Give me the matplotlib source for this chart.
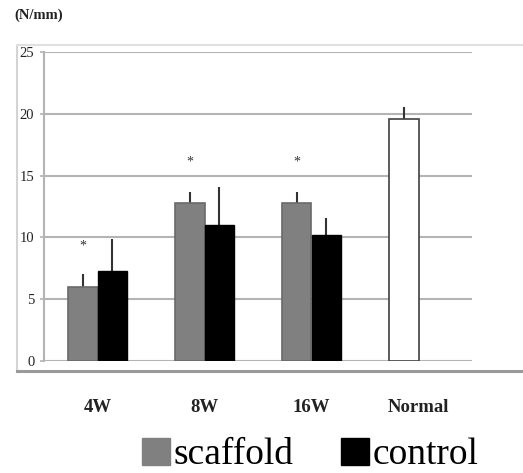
import numpy as np
import matplotlib
matplotlib.use("Agg")
from matplotlib import pyplot as plt
from matplotlib.patches import Patch
from matplotlib.lines import Line2D

# data
categories = ['4W', '8W', '16W', 'Normal']
scaffold = [6.0, 12.8, 12.8, 19.6]
scaffold_err = [1.0, 0.9, 0.9, 0.95]
control = [7.3, 11.0, 10.2]
control_err = [2.6, 3.05, 1.35]
star_height = [9.3, 16.1, 16.1]

plt.rcParams['font.family'] = ['Liberation Serif', 'DejaVu Serif']

fig = plt.figure(figsize=(5.23, 4.73), dpi=100)
ax = fig.add_axes([44/523, 112/473, 428/523, 309/473])

x = np.arange(len(categories))
w = 0.28
sc_colors = ['#808080'] * 3 + ['white']
sc_edges = ['#6a6a6a'] * 3 + ['#404040']
ax.bar(x - w/2, scaffold, w, color=sc_colors, edgecolor=sc_edges, linewidth=1.2, zorder=3)
ax.bar(x[:3] + w/2, control, w, color='black', edgecolor='black', linewidth=1.0, zorder=3)

ax.errorbar(x - w/2, scaffold, yerr=[np.zeros(4), scaffold_err], fmt='none',
            ecolor='#333333', elinewidth=1.5, capsize=0, zorder=2)
ax.errorbar(x[:3] + w/2, control, yerr=[np.zeros(3), control_err], fmt='none',
            ecolor='#333333', elinewidth=1.5, capsize=0, zorder=2)

# significance stars
for xi, h in zip(x[:3] - w/2, star_height):
    ax.text(xi, h, '*', ha='center', va='center', fontsize=10, color='#333333')

ax.set_xlim(-0.5, 3.5)
ax.set_ylim(0, 25)
ax.set_yticks([0, 5, 10, 15, 20, 25])
ax.yaxis.grid(True, color='#b4b4b4', linewidth=1.5, zorder=0)
ax.set_axisbelow(True)
for s in ['top', 'right', 'bottom']:
    ax.spines[s].set_visible(False)
ax.spines['left'].set_color('#b4b4b4')
ax.spines['left'].set_linewidth(1.5)
ax.tick_params(axis='y', length=3, color='#b4b4b4', width=1.2, pad=4,
               labelsize=10.5, labelcolor='#222222')
ax.set_xticks(x)
ax.set_xticklabels(categories, fontsize=13.5, fontweight='bold', color='#222222')
ax.tick_params(axis='x', length=0, pad=27)

# outer frame
fig.add_artist(Line2D([17/523, 17/523], [1 - 45/473, 1 - 371/473], color='#d4d4d4', lw=1.5))
fig.add_artist(Line2D([17/523, 1], [1 - 45/473, 1 - 45/473], color='#e0e0e0', lw=1.5))
fig.add_artist(Line2D([17/523, 1], [1 - 371/473, 1 - 371/473], color='#9a9a9a', lw=2.2))

fig.text(14/523, 1 - 15/473, '(N/mm)', fontsize=10.5, fontweight='bold',
         ha='left', va='center', color='#222222')

handles = [Patch(facecolor='#808080', edgecolor='#808080', label='scaffold'),
           Patch(facecolor='black', edgecolor='black', label='control')]
fig.legend(handles=handles, loc='center', bbox_to_anchor=(0.593, 1 - 455/473),
           ncol=2, frameon=False, fontsize=27, handlelength=0.75, handleheight=0.75,
           handletextpad=0.1, columnspacing=1.25, borderpad=0)

fig.savefig('out.png', dpi=100)
